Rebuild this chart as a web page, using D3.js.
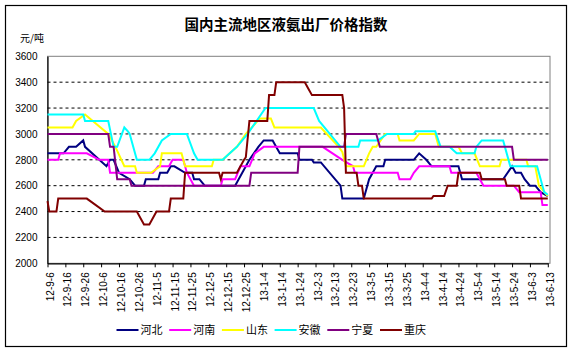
<!DOCTYPE html>
<html>
<head>
<meta charset="utf-8">
<script src="https://cdn.jsdelivr.net/npm/d3@7"></script>
<style>
  body { margin: 0; background: #fff; }
  svg { display: block; }
  text { font-family: "Liberation Sans", Arial, sans-serif; fill: #000; }
  .cjk { font-family: "Noto Sans CJK SC", sans-serif; }
</style>
</head>
<body>
<div id="chart"></div>
<script>
// x labels, every 10 days
const xLabels = ["12-9-6","12-9-16","12-9-26","12-10-6","12-10-16","12-10-26","12-11-5","12-11-15","12-11-25",
  "12-12-5","12-12-15","12-12-25","13-1-4","13-1-14","13-1-24","13-2-3","13-2-13","13-2-23","13-3-5","13-3-15",
  "13-3-25","13-4-4","13-4-14","13-4-24","13-5-4","13-5-14","13-5-24","13-6-3","13-6-13"];
const yTicks = [2000, 2200, 2400, 2600, 2800, 3000, 3200, 3400, 3600];
const seriesNames = ["河北", "河南", "山东", "安徽", "宁夏", "重庆"];
const seriesColors = ["#000080", "#ff00ff", "#ffff00", "#00ffff", "#800080", "#800000"];

// price points: [date, 元/吨]
const hebei = [["12-9-6",2850],["12-9-15",2850],["12-9-18",2900],["12-9-22",2900],["12-9-26",2950],["12-9-27",2900],
  ["12-10-9",2750],["12-10-11",2800],["12-10-13",2800],["12-10-16",2700],["12-10-22",2650],["12-10-25",2600],
  ["12-10-30",2600],["12-10-31",2650],["12-11-7",2650],["12-11-8",2700],["12-11-12",2700],["12-11-14",2750],
  ["12-11-16",2750],["12-11-22",2700],["12-11-26",2700],["12-11-27",2650],["12-11-30",2650],["12-12-3",2600],
  ["12-12-20",2600],["12-12-24",2700],["12-12-28",2800],["13-1-2",2900],["13-1-5",2950],["13-1-10",2950],
  ["13-1-14",2850],["13-1-24",2850],["13-1-25",2800],["13-2-1",2800],["13-2-2",2780],["13-2-6",2780],
  ["13-2-17",2600],["13-2-18",2500],["13-3-2",2500],["13-3-5",2650],["13-3-7",2700],["13-3-9",2750],
  ["13-3-13",2750],["13-3-14",2800],["13-3-30",2800],["13-4-2",2850],["13-4-6",2800],["13-4-9",2750],
  ["13-4-24",2750],["13-4-26",2650],["13-5-19",2650],["13-5-24",2750],["13-5-26",2700],["13-5-29",2700],
  ["13-5-31",2650],["13-6-3",2600],["13-6-6",2600],["13-6-9",2550],["13-6-13",2520]];

const henan = [["12-9-6",2800],["12-9-12",2800],["12-9-13",2850],["12-9-28",2850],["12-10-5",2800],["12-10-10",2800],
  ["12-10-11",2700],["12-11-4",2700],["12-11-7",2750],["12-11-13",2750],["12-11-15",2800],["12-11-21",2800],
  ["12-11-23",2700],["12-11-27",2600],["12-12-12",2600],["12-12-13",2650],["12-12-20",2650],["12-12-23",2750],
  ["12-12-28",2750],["12-12-31",2850],["13-1-5",2900],["13-2-7",2900],["13-2-18",2800],["13-2-24",2750],
  ["13-2-25",2700],["13-3-21",2700],["13-3-22",2650],["13-3-28",2650],["13-3-30",2700],["13-4-2",2750],
  ["13-4-19",2750],["13-4-20",2700],["13-5-4",2700],["13-5-6",2650],["13-5-8",2600],["13-5-25",2600],
  ["13-5-28",2550],["13-6-9",2550],["13-6-10",2450],["13-6-13",2450]];

const shandong = [["12-9-6",3050],["12-9-20",3050],["12-9-22",3100],["12-9-27",3150],["12-10-10",3000],
  ["12-10-14",2900],["12-10-19",2750],["12-10-25",2750],["12-10-26",2700],["12-11-3",2700],["12-11-8",2750],
  ["12-11-9",2850],["12-11-20",2850],["12-11-22",2750],["12-12-7",2750],["12-12-8",2800],["12-12-13",2800],
  ["12-12-17",2850],["12-12-21",2900],["12-12-26",3000],["13-1-3",3120],["13-1-9",3120],["13-1-11",3050],
  ["13-2-6",3050],["13-2-16",2900],["13-2-18",2860],["13-2-20",2750],["13-3-2",2750],["13-3-5",2850],
  ["13-3-7",2900],["13-3-9",2900],["13-3-14",3000],["13-3-21",3000],["13-3-22",2950],["13-3-30",2950],
  ["13-4-2",3000],["13-4-11",3000],["13-4-13",2900],["13-4-24",2900],["13-4-26",2850],["13-5-3",2850],
  ["13-5-6",2750],["13-5-17",2750],["13-5-18",2800],["13-6-1",2800],["13-6-2",2750],["13-6-6",2750],
  ["13-6-8",2600],["13-6-13",2520]];

const anhui = [["12-9-6",3150],["12-9-26",3150],["12-9-27",3100],["12-10-10",3100],["12-10-13",2900],
  ["12-10-15",2900],["12-10-19",3050],["12-10-21",3020],["12-10-22",3000],["12-10-26",2800],["12-11-2",2800],
  ["12-11-5",2850],["12-11-9",2950],["12-11-14",3000],["12-11-23",3000],["12-11-27",2850],["12-11-29",2800],
  ["12-12-13",2800],["12-12-17",2850],["12-12-21",2900],["12-12-27",3000],["13-1-6",3200],["13-2-2",3200],
  ["13-2-5",3100],["13-2-17",2900],["13-2-27",2900],["13-2-28",2950],["13-3-10",2950],["13-3-15",3000],
  ["13-3-30",3000],["13-3-31",3020],["13-4-11",3020],["13-4-14",2900],["13-4-19",2900],["13-4-23",2850],
  ["13-5-3",2850],["13-5-4",2900],["13-5-7",2950],["13-5-19",2950],["13-5-20",2900],["13-5-23",2750],
  ["13-6-7",2750],["13-6-11",2550],["13-6-13",2530]];

const ningxia = [["12-9-6",3000],["12-10-10",3000],["12-10-11",2900],["12-10-13",2900],["12-10-15",2650],
  ["12-10-22",2650],["12-10-23",2600],["12-12-28",2600],["12-12-29",2700],["13-1-24",2700],["13-1-25",2900],
  ["13-2-19",2900],["13-2-20",3000],["13-3-9",3000],["13-3-11",2900],["13-5-24",2900],["13-5-25",2800],
  ["13-6-13",2800]];

const chongqing = [["12-9-6",2480],["12-9-7",2400],["12-9-11",2400],["12-9-12",2500],["12-9-28",2500],
  ["12-10-8",2400],["12-10-26",2400],["12-10-30",2300],["12-11-2",2300],["12-11-6",2400],["12-11-13",2400],
  ["12-11-14",2500],["12-11-21",2500],["12-11-22",2700],["12-12-11",2700],["12-12-12",2650],["12-12-13",2700],
  ["12-12-21",2700],["12-12-25",2800],["12-12-26",2820],["12-12-28",3100],["13-1-7",3100],["13-1-8",3300],
  ["13-1-11",3300],["13-1-12",3400],["13-1-28",3400],["13-1-30",3350],["13-2-1",3300],["13-2-18",3300],
  ["13-2-19",3200],["13-2-20",2700],["13-2-26",2700],["13-2-27",2600],["13-3-1",2600],["13-3-2",2500],
  ["13-4-9",2500],["13-4-10",2520],["13-4-16",2520],["13-4-18",2600],["13-4-23",2600],["13-4-24",2700],
  ["13-5-6",2700],["13-5-7",2650],["13-5-20",2650],["13-5-21",2600],["13-5-28",2600],["13-5-29",2500],
  ["13-6-13",2500]];

const allSeries = [hebei, henan, shandong, anhui, ningxia, chongqing];

const width = 573, height = 353;
const plot = { left: 47.5, right: 550, top: 56.3, bottom: 263.3 };
const parse = d3.utcParse("%y-%m-%d");

const svg = d3.select("#chart").append("svg")
  .attr("width", width)
  .attr("height", height);

// outer border
svg.append("rect")
  .attr("x", 5.5).attr("y", 5.5)
  .attr("width", 561).attr("height", 341)
  .attr("fill", "#fff")
  .attr("stroke", "#000")
  .attr("stroke-width", 1.2);

const x = d3.scaleUtc()
  .domain([parse(xLabels[0]), parse(xLabels[xLabels.length - 1])])
  .range([plot.left, 547.8]);

const y = d3.scaleLinear()
  .domain([2000, 3600])
  .range([plot.bottom, plot.top]);

// title and unit
svg.append("text")
  .attr("class", "cjk")
  .attr("x", 286).attr("y", 30)
  .attr("text-anchor", "middle")
  .style("font-size", "14.5px")
  .style("font-weight", "bold")
  .text("国内主流地区液氨出厂价格指数");

svg.append("text")
  .attr("class", "cjk")
  .attr("x", 20).attr("y", 42)
  .style("font-size", "10px")
  .text("元/吨");

// plot frame (grey top/right)
svg.append("rect")
  .attr("x", plot.left).attr("y", plot.top)
  .attr("width", plot.right - plot.left)
  .attr("height", plot.bottom - plot.top)
  .attr("fill", "none")
  .attr("stroke", "#808080")
  .attr("stroke-width", 1);

// dashed gridlines
svg.append("g")
  .selectAll("line")
  .data(yTicks.filter(v => v > 2000 && v < 3600))
  .join("line")
  .attr("x1", plot.left).attr("x2", plot.right)
  .attr("y1", d => y(d)).attr("y2", d => y(d))
  .attr("stroke", "#000")
  .attr("stroke-width", 1)
  .attr("stroke-dasharray", "3,3");

// y axis
const yAxis = svg.append("g")
  .attr("transform", `translate(${plot.left},0)`)
  .call(d3.axisLeft(y).tickValues(yTicks).tickFormat(d3.format("d")).tickSize(0).tickPadding(10));
yAxis.select(".domain").attr("stroke", "#000").attr("stroke-width", 1.2);
yAxis.selectAll("text")
  .style("font-family", "'Liberation Sans', Arial, sans-serif")
  .style("font-size", "10px");

// x axis
const xAxis = svg.append("g")
  .attr("transform", `translate(0,${plot.bottom})`)
  .call(d3.axisBottom(x)
    .tickValues(xLabels.map(parse))
    .tickFormat((d, i) => xLabels[i])
    .tickSize(4)
    .tickSizeOuter(0));
xAxis.select(".domain").attr("stroke", "#000").attr("stroke-width", 1.2);
xAxis.selectAll(".tick line").attr("stroke", "#000");
xAxis.selectAll("text")
  .style("font-family", "'Liberation Sans', Arial, sans-serif")
  .style("font-size", "10px")
  .attr("text-anchor", "end")
  .attr("transform", "rotate(-90)")
  .attr("x", -9)
  .attr("y", 2)
  .attr("dy", "0.35em");

// series lines
const line = d3.line()
  .x(d => x(parse(d[0])))
  .y(d => y(d[1]));

svg.append("g")
  .selectAll("path")
  .data(allSeries)
  .join("path")
  .attr("d", line)
  .attr("fill", "none")
  .attr("stroke", (d, i) => seriesColors[i])
  .attr("stroke-width", 2)
  .attr("stroke-linejoin", "miter");

// legend
const legend = svg.append("g")
  .selectAll("g")
  .data(seriesNames)
  .join("g")
  .attr("transform", (d, i) => `translate(${116.5 + i * 52.7},330)`);

legend.append("line")
  .attr("x1", 0).attr("x2", 22)
  .attr("stroke", (d, i) => seriesColors[i])
  .attr("stroke-width", 2);

legend.append("text")
  .attr("class", "cjk")
  .attr("x", 24).attr("y", 4)
  .style("font-size", "11px")
  .text(d => d);
</script>
</body>
</html>
